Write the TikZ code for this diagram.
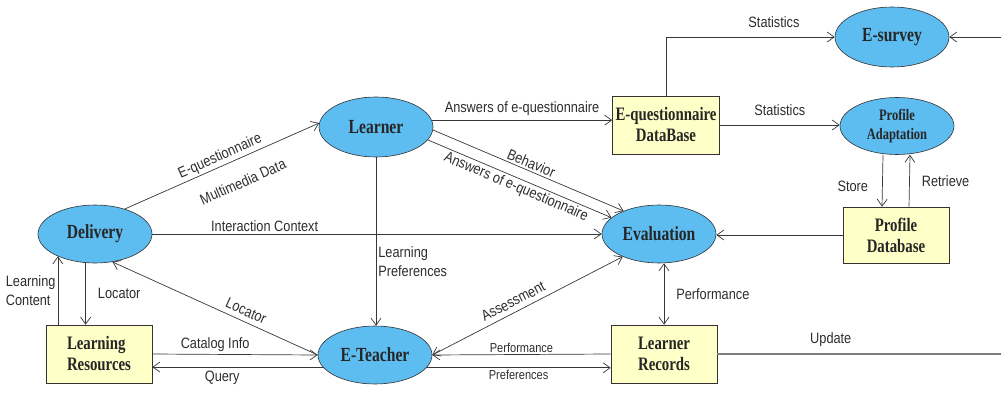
\documentclass[tikz,border=0pt]{standalone}
\usepackage{fontspec}
\setmainfont{Liberation Sans}
\newfontfamily\lblfont[FakeStretch=0.85]{Liberation Sans}
\newfontfamily\ttlfont[FakeStretch=0.78]{Liberation Serif}
\usepackage{xcolor}
\usetikzlibrary{shapes.geometric,arrows.meta,calc}
\definecolor{eblue}{RGB}{93,189,240}
\definecolor{byellow}{RGB}{255,255,200}
\definecolor{lncol}{RGB}{55,55,55}
\definecolor{txtcol}{RGB}{45,45,45}
\definecolor{updcol}{RGB}{125,125,125}

\begin{document}
\begin{tikzpicture}[x=1pt,y=-1pt,
    proc/.style={ellipse, draw=black!80, fill=eblue, line width=0.6pt, minimum width=114pt, minimum height=58pt, inner sep=0pt, align=center, text=black!85, font=\ttlfont\bfseries\fontsize{20}{21}\selectfont},
    store/.style={rectangle, draw=black!80, fill=byellow, line width=0.6pt, minimum width=106pt, minimum height=58pt, inner sep=1pt, align=center, text=black!85, font=\ttlfont\bfseries\fontsize{19}{21}\selectfont},
    lbl/.style={font=\lblfont\fontsize{15}{19}\selectfont, text=txtcol, inner sep=2pt},
    slbl/.style={font=\lblfont\fontsize{13}{14}\selectfont, text=txtcol, inner sep=2pt},
    flow/.style={draw=lncol, line width=0.7pt},
    arr/.style={flow, -{Straight Barb[length=7pt,width=10pt]}},
    rarr/.style={flow, {Straight Barb[length=7pt,width=10pt]}-},
    dbl/.style={flow, {Straight Barb[length=7pt,width=10pt]}-{Straight Barb[length=7pt,width=10pt]}}]
    \useasboundingbox (0,0) rectangle (1001,393);

    % processes
    \node[proc] (deliv) at (95,234) {Delivery};
    \node[proc, minimum height=60pt] (learner) at (376,127) {Learner};
    \node[proc, minimum height=60pt] (esurvey) at (892,37) {E-survey};
    \node[proc, minimum height=57pt, font=\ttlfont\bfseries\fontsize{16}{19}\selectfont] (padapt) at (897,126) {Profile\\Adaptation};
    \node[proc] (eval) at (659,234) {Evaluation};
    \node[proc] (eteach) at (375,355) {E-Teacher};

    % data stores
    \node[store, minimum width=107pt] (eqdb) at (666,125) {E-questionnaire\\DataBase};
    \node[store, minimum height=56pt] (pdb) at (896,235) {Profile\\Database};
    \node[store, align=left] (lres) at (99,354) {Learning\\Resources};
    \node[store] (lrec) at (664,354) {Learner\\Records};

    % loose ends
    \coordinate (svin) at (1001,37);
    \coordinate (updout) at (1001,354);

    % learner side
    \draw[arr] (deliv.40) -- (learner.176)
        node[lbl, sloped, above, pos=0.51] {E-questionnaire}
        node[lbl, sloped, below=15pt, pos=0.56] {Multimedia Data};
    \draw[arr] (deliv.east) -- (eval.west) node[lbl, above, pos=0.25] {Interaction Context};
    \draw[arr] (learner.south) -- (learner.south |- eteach.north)
        node[lbl, right, align=left, pos=0.62] {Learning\\Preferences};
    \draw[arr] (learner.7) -- (learner.7 -| eqdb.west) node[lbl, above=2pt, midway] {Answers of e-questionnaire};
    \draw[arr] (learner.-3) -- (eval.147) node[lbl, sloped, above, midway] {Behavior};
    \draw[arr] (learner.-14) -- (eval.161) node[lbl, sloped, below, midway] {Answers of e-questionnaire};

    % statistics and profile
    \draw[arr] (eqdb.north) |- (esurvey.west) node[lbl, above=7pt, pos=0.82] {Statistics};
    \draw[arr] (eqdb.east) -- (eqdb.east -| padapt.west) node[lbl, above=7pt, midway] {Statistics};
    \draw[arr] (svin) -- (esurvey.east);
    \draw[arr] ([xshift=-14pt]padapt.south) -- ([xshift=-14pt]pdb.north) node[lbl, left=12pt, pos=0.6] {Store};
    \draw[arr] ([xshift=13pt]pdb.north) -- ([xshift=13pt]padapt.south) node[lbl, right=10pt, midway] {Retrieve};
    \draw[arr] (pdb.west) -- (pdb.west -| eval.east);

    % evaluation and records
    \draw[dbl] (lrec.north |- eval.south) -- (lrec.north) node[lbl, right=10pt, midway] {Performance};
    \draw[dbl] (eteach.east) -- (eval.212) node[lbl, sloped, above=3pt, pos=0.45] {Assessment};
    \draw[arr] (lrec.west) -- (eteach.east) node[slbl, above, midway] {Performance};
    \draw[arr] (eteach.-14) -- (eteach.-14 -| lrec.west) node[slbl, below, midway] {Preferences};
    \draw[flow, draw=updcol, line width=1.2pt] (lrec.east) -- (updout) node[lbl, above=5pt, pos=0.4] {Update};

    % delivery and resources
    \draw[arr] (lres.east) -- (eteach.west) node[lbl, above, pos=0.38] {Catalog Info};
    \draw[rarr] (eteach.193 -| lres.east) -- (eteach.193) node[lbl, below=2pt, pos=0.41] {Query};
    \draw[rarr] (deliv.-58) -- (eteach.west) node[lbl, sloped, above=3pt, pos=0.63] {Locator};
    \draw[arr] (deliv.252) -- (deliv.252 |- lres.north) node[lbl, right=10pt, midway] {Locator};
    \draw[arr] (deliv.211 |- lres.north) -- (deliv.211) node[lbl, left, align=left, midway] {Learning\\Content};
\end{tikzpicture}
\end{document}
